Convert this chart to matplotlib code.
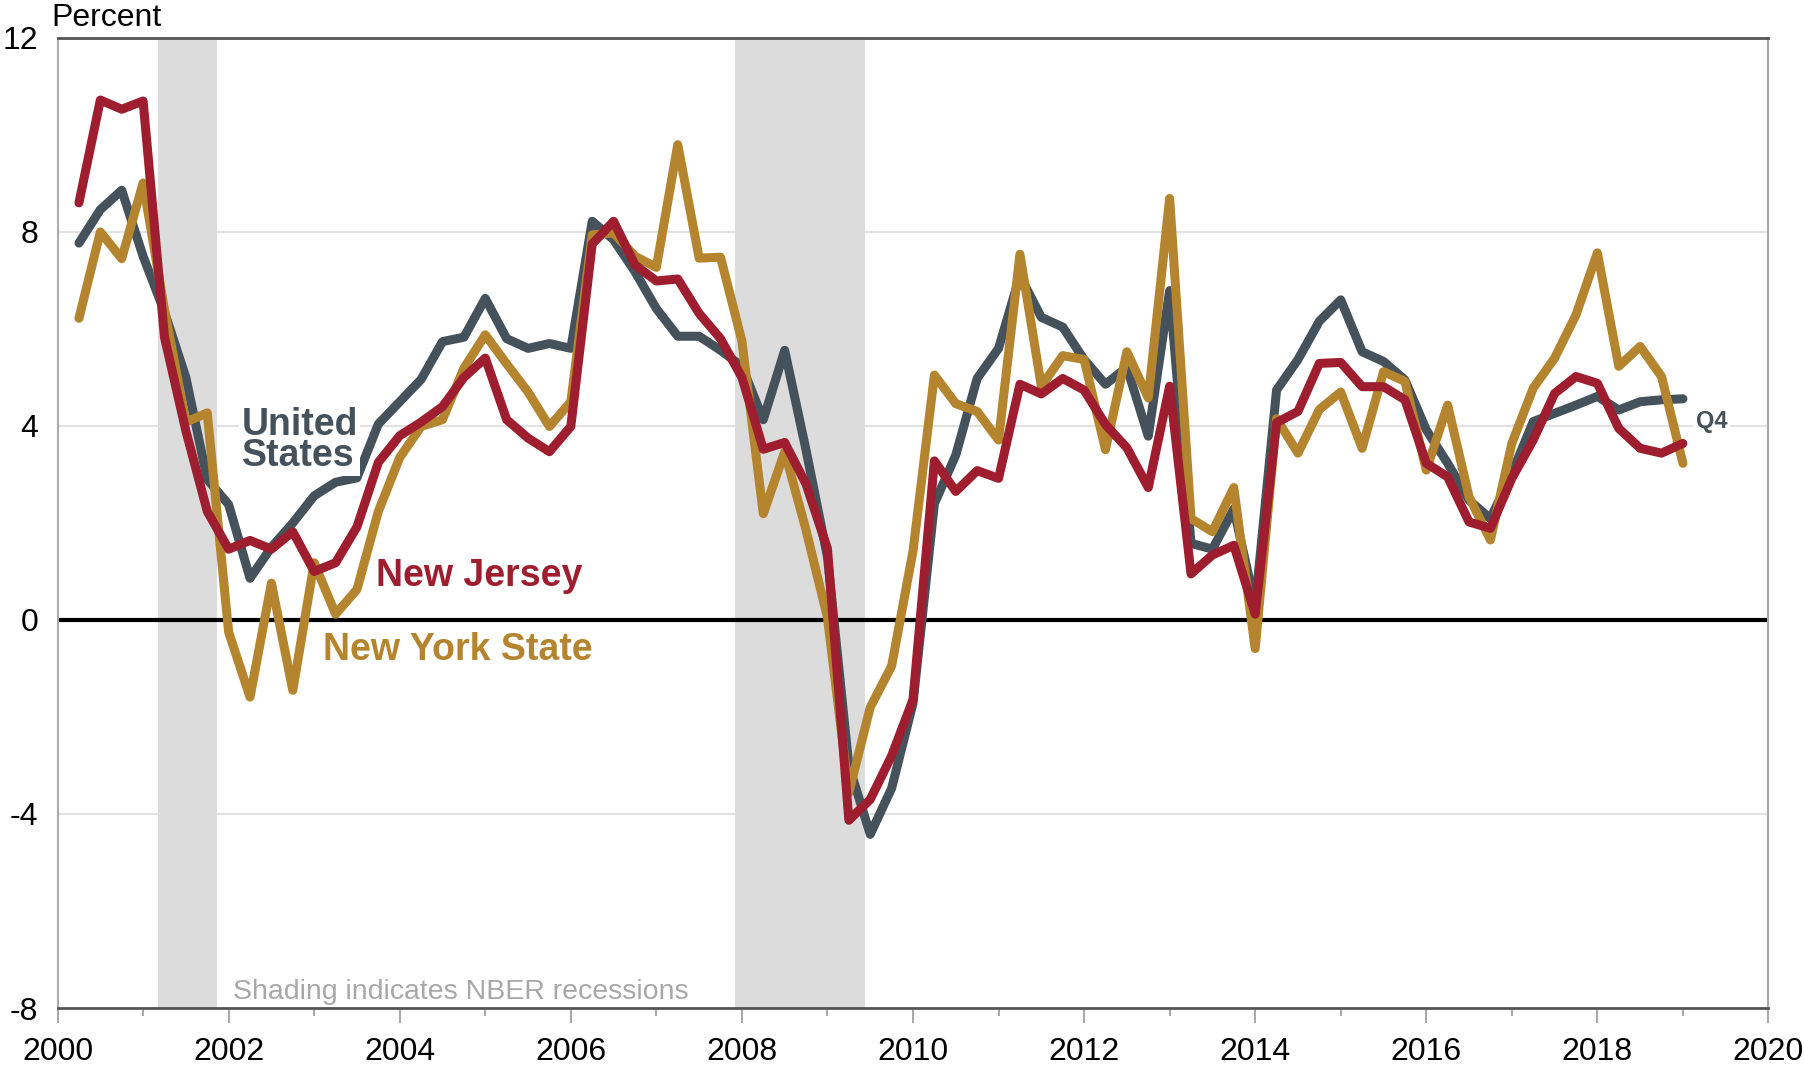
import numpy as np
import matplotlib
matplotlib.use("Agg")
import matplotlib.pyplot as plt
from matplotlib.ticker import MultipleLocator

plt.rcParams['font.family'] = ['Liberation Sans', 'DejaVu Sans']

# quarterly, plotted at quarter end: 2000 Q1 ... 2018 Q4
quarters = 2000.25 + 0.25 * np.arange(76)

united_states = [
    7.77, 8.46, 8.86, 7.5,
    6.35, 5.0, 2.9, 2.38,
    0.86, 1.5, 2.0, 2.56,
    2.84, 2.93, 4.04, 4.5,
    4.96, 5.74, 5.83, 6.63,
    5.8, 5.6, 5.7, 5.6,
    8.22, 7.84, 7.18, 6.42,
    5.85, 5.85, 5.56, 5.23,
    4.13, 5.56, 3.5, 1.3,
    -3.0, -4.42, -3.47, -1.72,
    2.4, 3.4, 4.98, 5.6,
    7.1, 6.24, 6.04, 5.37,
    4.86, 5.21, 3.79, 6.79,
    1.58, 1.46, 2.29, 0.3,
    4.74, 5.37, 6.16, 6.6,
    5.53, 5.33, 4.95, 3.92,
    3.23, 2.47, 2.09, 3.02,
    4.09, 4.26, 4.43, 4.61,
    4.33, 4.5, 4.54, 4.56,
]

new_jersey = [
    8.6, 10.72, 10.53, 10.7,
    5.83, 3.9, 2.24, 1.46,
    1.64, 1.46, 1.82, 1.0,
    1.18, 1.92, 3.25, 3.8,
    4.08, 4.4, 5.0, 5.4,
    4.13, 3.75, 3.47, 3.99,
    7.75, 8.22, 7.32, 6.99,
    7.03, 6.32, 5.8, 5.0,
    3.52, 3.66, 2.8, 1.47,
    -4.13, -3.7, -2.8, -1.64,
    3.28, 2.65, 3.08, 2.92,
    4.86, 4.66, 4.98, 4.74,
    4.03, 3.55, 2.73, 4.82,
    0.95, 1.34, 1.54, 0.12,
    4.07, 4.3, 5.29, 5.31,
    4.81, 4.81, 4.54, 3.23,
    2.95, 2.02, 1.89, 2.92,
    3.71, 4.67, 5.02, 4.88,
    3.95, 3.54, 3.44, 3.64,
]

new_york = [
    6.22, 8.0, 7.45, 9.01,
    6.4, 4.08, 4.27, -0.25,
    -1.59, 0.76, -1.45, 1.18,
    0.12, 0.63, 2.24, 3.35,
    3.99, 4.13, 5.19, 5.88,
    5.28, 4.7, 3.99, 4.5,
    7.94, 7.98, 7.5, 7.27,
    9.8, 7.46, 7.48, 5.75,
    2.19, 3.47, 1.85, 0.05,
    -3.56, -1.8, -0.95, 1.42,
    5.05, 4.46, 4.3, 3.71,
    7.54, 4.82, 5.45, 5.37,
    3.51, 5.53, 4.58, 8.69,
    2.09, 1.82, 2.73, -0.59,
    4.15, 3.44, 4.34, 4.7,
    3.54, 5.12, 4.92, 3.09,
    4.43, 2.54, 1.65, 3.64,
    4.78, 5.4, 6.29, 7.57,
    5.23, 5.64, 5.02, 3.23,
]

recessions = [(2001.17, 2001.86), (2007.92, 2009.44)]
years = list(range(2000, 2021, 2))

c_us = '#45525c'
c_nj = '#9e1d2f'
c_ny = '#b5842e'

fig = plt.figure(figsize=(18.04, 10.66), dpi=100)
ax = fig.add_axes([0.0319, 0.0544, 0.9484, 0.91])

for start, end in recessions:
    ax.axvspan(start, end, color='#dcdcdc', lw=0, zorder=1)

for y in [-4, 4, 8]:
    ax.axhline(y, color='#e2e2e2', lw=1.5, zorder=0)
ax.axhline(0, color='black', lw=3, zorder=2)

kw = dict(lw=6.5, solid_capstyle='round', solid_joinstyle='round')
ax.plot(quarters, united_states, color=c_us, zorder=3, **kw)
ax.plot(quarters, new_york, color=c_ny, zorder=4, **kw)
ax.plot(quarters, new_jersey, color=c_nj, zorder=5, **kw)

bold = dict(weight='bold', fontsize=27)
ax.text(2002.15, 3.7, 'United\nStates', color=c_us, ha='left', va='center',
        linespacing=0.8, zorder=6, bbox=dict(fc='white', ec='none', pad=2), **bold)
ax.text(2003.72, 0.9, 'New Jersey', color=c_nj, ha='left', va='center', zorder=6, **bold)
ax.text(2003.1, -0.62, 'New York State', color=c_ny, ha='left', va='center', zorder=6, **bold)
ax.text(2019.15, 4.1, 'Q4', color=c_us, ha='left', va='center', zorder=6,
        weight='bold', fontsize=17, bbox=dict(fc='white', ec='none', pad=2))
ax.text(2002.05, -7.68, 'Shading indicates NBER recessions', color='#a8a8a8',
        ha='left', va='center', fontsize=20.5, zorder=6)
fig.text(0.0285, 0.997, 'Percent', ha='left', va='top', fontsize=23)

ax.set_xlim(2000, 2020)
ax.set_ylim(-8, 12)
ax.set_yticks([-8, -4, 0, 4, 8, 12])
ax.set_yticklabels(['-8', '-4', '0', '4', '8', '12'])
ax.set_xticks(years)
ax.set_xticklabels([str(y) for y in years])
ax.xaxis.set_minor_locator(MultipleLocator(1))
ax.tick_params(axis='x', which='major', length=11, width=1.2, color='#999999',
               labelsize=23, pad=10)
ax.tick_params(axis='x', which='minor', length=6, width=1.2, color='#999999')
ax.tick_params(axis='y', length=0, labelsize=23, pad=14)

for side in ['left', 'right']:
    ax.spines[side].set_color('#aaaaaa')
    ax.spines[side].set_linewidth(1.5)
for side in ['top', 'bottom']:
    ax.spines[side].set_color('#555555')
    ax.spines[side].set_linewidth(2)

fig.savefig('out.png', dpi=100, facecolor='white')
